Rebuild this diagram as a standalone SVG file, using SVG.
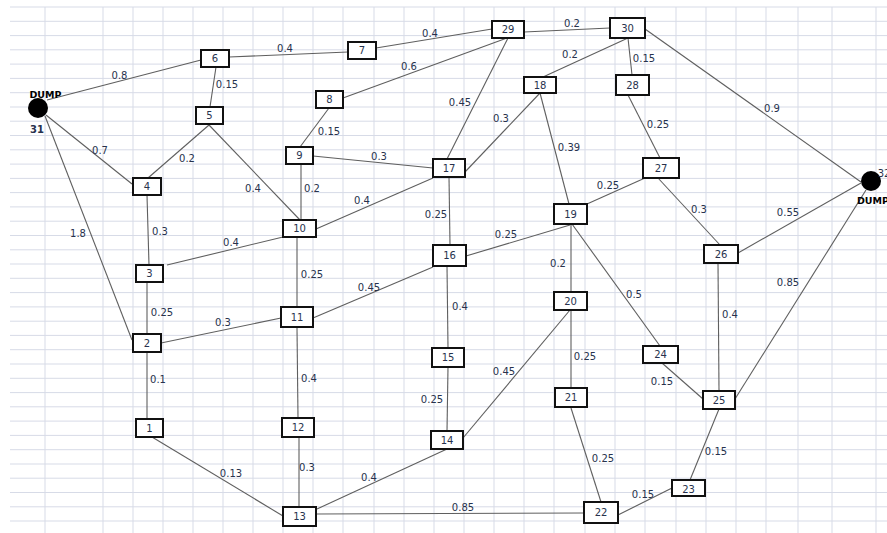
<svg xmlns="http://www.w3.org/2000/svg" width="887" height="533" viewBox="0 0 887 533">
<style>
.grid{stroke:#d7dbe7;stroke-width:1;fill:none}
.edge{stroke:#5f5f5f;stroke-width:1.1;fill:none}
.box{fill:#fff;stroke:#111;stroke-width:2}
.nt{font-family:"DejaVu Sans",sans-serif;font-size:10px;fill:#27324d;text-anchor:middle;dominant-baseline:central}
.lb{font-family:"DejaVu Sans",sans-serif;font-size:10px;fill:#27324d;text-anchor:middle;dominant-baseline:central}
.dump{font-family:"DejaVu Sans",sans-serif;font-size:9.5px;font-weight:bold;fill:#000;text-anchor:middle;dominant-baseline:central}
</style>
<rect width="887" height="533" fill="#fff"/>
<g id="grid" class="grid">
<path d="M10 7H887M10 21.3H887M10 35.6H887M10 49.8H887M10 64.1H887M10 78.4H887M10 92.7H887M10 107H887M10 121.2H887M10 135.5H887M10 149.8H887M10 164.1H887M10 178.4H887M10 192.6H887M10 206.9H887M10 221.2H887M10 235.5H887M10 249.8H887M10 264H887M10 278.3H887M10 292.6H887M10 306.9H887M10 321.2H887M10 335.4H887M10 349.7H887M10 364H887M10 378.3H887M10 392.6H887M10 406.8H887M10 421.1H887M10 435.4H887M10 449.7H887M10 464H887M10 478.2H887M10 492.5H887M10 506.8H887M10 521H887"/>
<path d="M45 7V533M103 7V533M133 7V533M163 7V533M193 7V533M223 7V533M253 7V533M283 7V533M313 7V533M343 7V533M374 7V533M404 7V533M434 7V533M464 7V533M494 7V533M524 7V533M554 7V533M585 7V533M615 7V533M645 7V533M676 7V533M706 7V533M736 7V533M766 7V533M798 7V533M832 7V533M876 7V533"/>
</g>
<g id="connectors" class="edge">
<line x1="47" y1="100" x2="201" y2="60"/>
<line x1="229" y1="57" x2="348" y2="52"/>
<line x1="376" y1="48" x2="492" y2="29"/>
<line x1="524" y1="32" x2="610" y2="28"/>
<line x1="628" y1="38" x2="543" y2="77"/>
<line x1="628" y1="38" x2="632" y2="75"/>
<line x1="645" y1="29" x2="861" y2="182"/>
<line x1="216" y1="67" x2="210" y2="107"/>
<line x1="46" y1="115" x2="132" y2="184"/>
<line x1="209" y1="125" x2="148" y2="178"/>
<line x1="209" y1="125" x2="300" y2="220"/>
<line x1="45" y1="116" x2="132" y2="340"/>
<line x1="147" y1="195" x2="149" y2="265"/>
<line x1="167" y1="265" x2="283" y2="237"/>
<line x1="147" y1="282" x2="147" y2="334"/>
<line x1="161" y1="343" x2="281" y2="318"/>
<line x1="147" y1="352" x2="147" y2="419"/>
<line x1="152" y1="437" x2="283" y2="516"/>
<line x1="507" y1="38" x2="343" y2="98"/>
<line x1="329" y1="108" x2="300" y2="147"/>
<line x1="313" y1="156" x2="433" y2="168"/>
<line x1="301" y1="164" x2="301" y2="220"/>
<line x1="508" y1="38" x2="447" y2="159"/>
<line x1="540" y1="93" x2="465" y2="172"/>
<line x1="540" y1="93" x2="569" y2="204"/>
<line x1="433" y1="178" x2="316" y2="229"/>
<line x1="449" y1="177" x2="450" y2="245"/>
<line x1="297" y1="237" x2="297" y2="307"/>
<line x1="433" y1="267" x2="313" y2="318"/>
<line x1="466" y1="256" x2="570" y2="225"/>
<line x1="645" y1="178" x2="587" y2="204"/>
<line x1="628" y1="95" x2="660" y2="158"/>
<line x1="658" y1="178" x2="720" y2="245"/>
<line x1="738" y1="253" x2="861" y2="183"/>
<line x1="571" y1="224" x2="571" y2="292"/>
<line x1="572" y1="224" x2="660" y2="346"/>
<line x1="447" y1="266" x2="448" y2="348"/>
<line x1="570" y1="310" x2="463" y2="438"/>
<line x1="571" y1="310" x2="571" y2="388"/>
<line x1="718" y1="263" x2="719" y2="391"/>
<line x1="866" y1="190" x2="735" y2="399"/>
<line x1="662" y1="363" x2="703" y2="399"/>
<line x1="297" y1="328" x2="298" y2="418"/>
<line x1="448" y1="367" x2="447" y2="431"/>
<line x1="299" y1="437" x2="299" y2="507"/>
<line x1="447" y1="449" x2="317" y2="509"/>
<line x1="316" y1="514" x2="584" y2="513"/>
<line x1="571" y1="408" x2="601" y2="502"/>
<line x1="618" y1="515" x2="672" y2="488"/>
<line x1="690" y1="480" x2="719" y2="409"/>
</g>
<g id="labels">
<text class="lb" x="119.5" y="75">0.8</text>
<text class="lb" x="285" y="48">0.4</text>
<text class="lb" x="227" y="84">0.15</text>
<text class="lb" x="100" y="150">0.7</text>
<text class="lb" x="187" y="158">0.2</text>
<text class="lb" x="430" y="33">0.4</text>
<text class="lb" x="572" y="23">0.2</text>
<text class="lb" x="570" y="54">0.2</text>
<text class="lb" x="409" y="66">0.6</text>
<text class="lb" x="460" y="102">0.45</text>
<text class="lb" x="501" y="118">0.3</text>
<text class="lb" x="569" y="147">0.39</text>
<text class="lb" x="329" y="131">0.15</text>
<text class="lb" x="379" y="156">0.3</text>
<text class="lb" x="644" y="58">0.15</text>
<text class="lb" x="772" y="108">0.9</text>
<text class="lb" x="658" y="124">0.25</text>
<text class="lb" x="608" y="185">0.25</text>
<text class="lb" x="78" y="233">1.8</text>
<text class="lb" x="160" y="231">0.3</text>
<text class="lb" x="231" y="242">0.4</text>
<text class="lb" x="253" y="188">0.4</text>
<text class="lb" x="162" y="312">0.25</text>
<text class="lb" x="223" y="322">0.3</text>
<text class="lb" x="312" y="188">0.2</text>
<text class="lb" x="362" y="200">0.4</text>
<text class="lb" x="436" y="214">0.25</text>
<text class="lb" x="506" y="234">0.25</text>
<text class="lb" x="312" y="274">0.25</text>
<text class="lb" x="369" y="287">0.45</text>
<text class="lb" x="558" y="263">0.2</text>
<text class="lb" x="460" y="306">0.4</text>
<text class="lb" x="585" y="356">0.25</text>
<text class="lb" x="699" y="209">0.3</text>
<text class="lb" x="788" y="212">0.55</text>
<text class="lb" x="634" y="294">0.5</text>
<text class="lb" x="788" y="282">0.85</text>
<text class="lb" x="730" y="314">0.4</text>
<text class="lb" x="158" y="379">0.1</text>
<text class="lb" x="231" y="473">0.13</text>
<text class="lb" x="309" y="378">0.4</text>
<text class="lb" x="504" y="371">0.45</text>
<text class="lb" x="432" y="399">0.25</text>
<text class="lb" x="307" y="467">0.3</text>
<text class="lb" x="369" y="477">0.4</text>
<text class="lb" x="463" y="507">0.85</text>
<text class="lb" x="603" y="458">0.25</text>
<text class="lb" x="662" y="381">0.15</text>
<text class="lb" x="716" y="451">0.15</text>
<text class="lb" x="643" y="494">0.15</text>
</g>
<g id="dump31"><circle cx="38" cy="108" r="10" fill="#000"/><text class="dump" x="45.5" y="94">DUMP</text><text class="lb" x="37" y="129" style="font-weight:bold">31</text></g>
<g id="dump32"><circle cx="871" cy="181" r="10" fill="#000"/><text class="dump" x="873" y="200">DUMP</text><text class="lb" x="884" y="173">32</text></g>
<g id="n1"><rect class="box" x="136" y="419" width="27" height="18"/><text class="nt" x="149.5" y="428">1</text></g>
<g id="n2"><rect class="box" x="133" y="334" width="28" height="18"/><text class="nt" x="147" y="343">2</text></g>
<g id="n3"><rect class="box" x="136" y="265" width="27" height="17"/><text class="nt" x="149.5" y="273.5">3</text></g>
<g id="n4"><rect class="box" x="133" y="178" width="28" height="17"/><text class="nt" x="147" y="186.5">4</text></g>
<g id="n5"><rect class="box" x="196" y="107" width="27" height="17"/><text class="nt" x="209.5" y="115.5">5</text></g>
<g id="n6"><rect class="box" x="201" y="50" width="28" height="17"/><text class="nt" x="215" y="58.5">6</text></g>
<g id="n7"><rect class="box" x="348" y="42" width="28" height="17"/><text class="nt" x="362" y="50.5">7</text></g>
<g id="n8"><rect class="box" x="316" y="91" width="27" height="17"/><text class="nt" x="329.5" y="99.5">8</text></g>
<g id="n9"><rect class="box" x="286" y="147" width="27" height="17"/><text class="nt" x="299.5" y="155.5">9</text></g>
<g id="n10"><rect class="box" x="283" y="220" width="33" height="17"/><text class="nt" x="299.5" y="228.5">10</text></g>
<g id="n11"><rect class="box" x="281" y="307" width="32" height="20"/><text class="nt" x="297" y="317">11</text></g>
<g id="n12"><rect class="box" x="282" y="418" width="32" height="19"/><text class="nt" x="298" y="427.5">12</text></g>
<g id="n13"><rect class="box" x="283" y="507" width="33" height="19"/><text class="nt" x="299.5" y="516.5">13</text></g>
<g id="n14"><rect class="box" x="431" y="431" width="32" height="18"/><text class="nt" x="447" y="440">14</text></g>
<g id="n15"><rect class="box" x="432" y="348" width="32" height="19"/><text class="nt" x="448" y="357.5">15</text></g>
<g id="n16"><rect class="box" x="433" y="245" width="33" height="21"/><text class="nt" x="449.5" y="255.5">16</text></g>
<g id="n17"><rect class="box" x="433" y="159" width="32" height="18"/><text class="nt" x="449" y="168">17</text></g>
<g id="n18"><rect class="box" x="524" y="77" width="32" height="16"/><text class="nt" x="540" y="85">18</text></g>
<g id="n19"><rect class="box" x="554" y="204" width="33" height="20"/><text class="nt" x="570.5" y="214">19</text></g>
<g id="n20"><rect class="box" x="554" y="292" width="33" height="18"/><text class="nt" x="570.5" y="301">20</text></g>
<g id="n21"><rect class="box" x="555" y="388" width="32" height="19"/><text class="nt" x="571" y="397.5">21</text></g>
<g id="n22"><rect class="box" x="584" y="502" width="34" height="21"/><text class="nt" x="601" y="512.5">22</text></g>
<g id="n23"><rect class="box" x="672" y="480" width="33" height="16"/><text class="nt" x="688.5" y="489">23</text></g>
<g id="n24"><rect class="box" x="643" y="346" width="35" height="17"/><text class="nt" x="660.5" y="354.5">24</text></g>
<g id="n25"><rect class="box" x="703" y="391" width="32" height="18"/><text class="nt" x="719" y="400">25</text></g>
<g id="n26"><rect class="box" x="704" y="245" width="34" height="18"/><text class="nt" x="721" y="254">26</text></g>
<g id="n27"><rect class="box" x="643" y="158" width="36" height="20"/><text class="nt" x="661" y="168">27</text></g>
<g id="n28"><rect class="box" x="616" y="75" width="33" height="20"/><text class="nt" x="632.5" y="85">28</text></g>
<g id="n29"><rect class="box" x="492" y="21" width="32" height="17"/><text class="nt" x="508" y="29.5">29</text></g>
<g id="n30"><rect class="box" x="610" y="18" width="35" height="20"/><text class="nt" x="627.5" y="28">30</text></g>
</svg>
